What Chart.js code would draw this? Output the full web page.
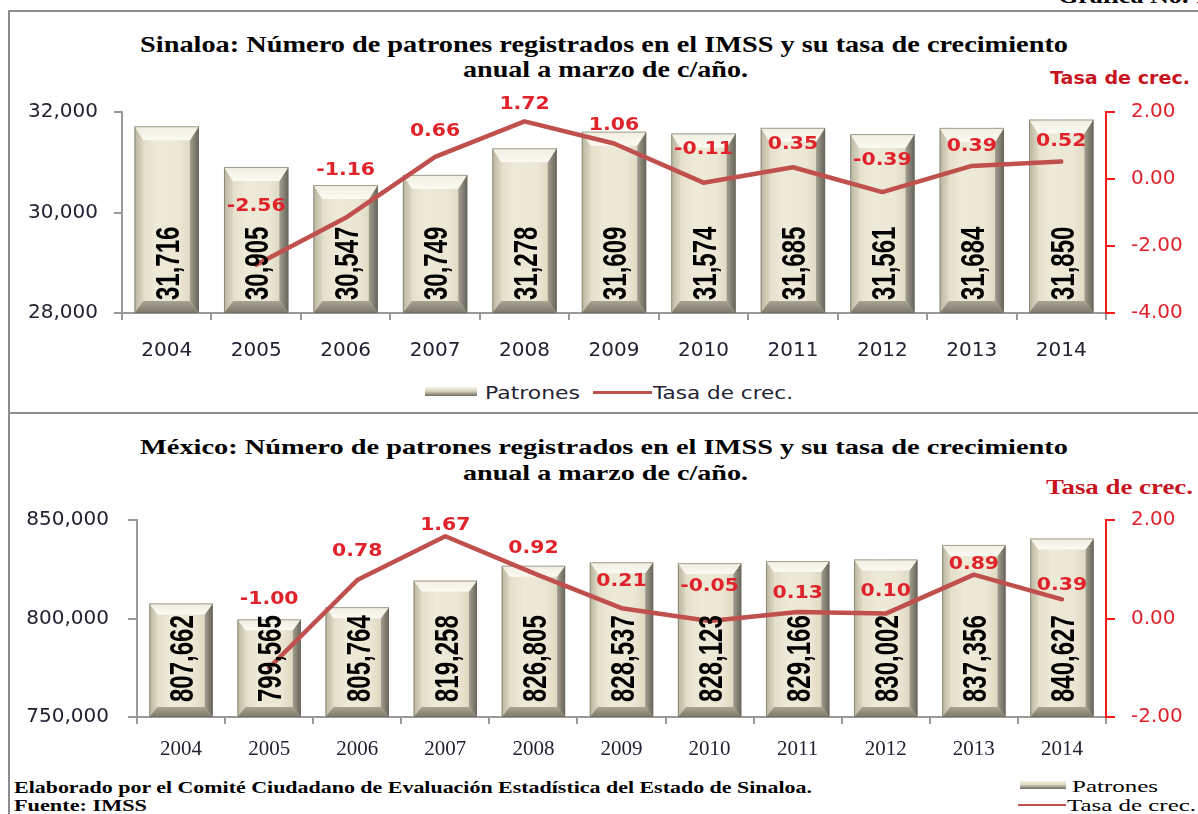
<!DOCTYPE html>
<html><head><meta charset="utf-8">
<script src="https://cdn.jsdelivr.net/npm/chart.js@4.4.1/dist/chart.umd.min.js"></script>
<style>
html,body{margin:0;padding:0;background:#fff;}
body{width:1198px;height:814px;overflow:hidden;position:relative;}
.abs{position:absolute;white-space:nowrap;line-height:1;}
.serif{font-family:"Liberation Serif","Times New Roman",serif;}
.sans{font-family:"DejaVu Sans",Verdana,sans-serif;}
.line{position:absolute;background:#8c8c8c;}
canvas{position:absolute;left:0;}
</style></head>
<body>
<div class="line" style="left:8px;top:10px;width:1190px;height:2px"></div>
<div class="line" style="left:8px;top:10px;width:2px;height:804px"></div>
<div class="line" style="left:8px;top:412px;width:1190px;height:2px"></div>

<div class="abs serif" style="font-weight:bold;font-size:21px;color:#000" data-fit="1058,150,-4">Gráfica No. 1</div>

<div class="abs serif" style="font-weight:bold;font-size:23px;color:#000" data-fit="140,928,44">Sinaloa: Número de patrones registrados en el IMSS y su tasa de crecimiento</div>
<div class="abs serif" style="font-weight:bold;font-size:23px;color:#000" data-fit="463,285,69">anual a marzo de c/año.</div>
<div class="abs sans" style="font-weight:bold;font-size:17px;color:#c8141e" data-fit="1050,140,78">Tasa de crec.</div>

<div class="abs" style="left:425px;top:387px;width:52px;height:9px;background:linear-gradient(#f6f3e6,#d9d5c0 45%,#6f6c60)"></div>
<div class="abs sans" style="font-size:17px;color:#222233" data-fit="485,95,393">Patrones</div>
<div class="abs" style="left:593px;top:391px;width:59px;height:3px;background:#c0504d"></div>
<div class="abs sans" style="font-size:17px;color:#222233" data-fit="653,140,393">Tasa de crec.</div>

<div class="abs serif" style="font-weight:bold;font-size:21px;color:#000" data-fit="140,928,447">México: Número de patrones registrados en el IMSS y su tasa de crecimiento</div>
<div class="abs serif" style="font-weight:bold;font-size:21px;color:#000" data-fit="463,285,473">anual a marzo de c/año.</div>
<div class="abs serif" style="font-weight:bold;font-size:20px;color:#c8141e" data-fit="1046,147,487">Tasa de crec.</div>

<div class="abs serif" style="font-weight:bold;font-size:17px;color:#000" data-fit="14,798,787">Elaborado por el Comité Ciudadano de Evaluación Estadística del Estado de Sinaloa.</div>
<div class="abs serif" style="font-weight:bold;font-size:17px;color:#000" data-fit="14,133,805">Fuente: IMSS</div>

<div class="abs" style="left:1020px;top:781px;width:46px;height:8px;background:linear-gradient(#f6f3e6,#d9d5c0 45%,#6f6c60)"></div>
<div class="abs serif" style="font-size:17px;color:#000" data-fit="1072,86,786">Patrones</div>
<div class="abs" style="left:1018px;top:804px;width:48px;height:2px;background:#c0504d"></div>
<div class="abs serif" style="font-size:17px;color:#000" data-fit="1067,129,805">Tasa de crec.</div>

<canvas id="c1" width="1198" height="413" style="top:0"></canvas>
<canvas id="c2" width="1198" height="401" style="top:413px"></canvas>

<script>
// ---- data ----
const years = ['2004','2005','2006','2007','2008','2009','2010','2011','2012','2013','2014'];
const sinPatrones = [31716,30905,30547,30749,31278,31609,31574,31685,31561,31684,31850];
const sinTasa = [null,-2.56,-1.16,0.66,1.72,1.06,-0.11,0.35,-0.39,0.39,0.52];
const mexPatrones = [807662,799565,805764,819258,826805,828537,828123,829166,830002,837356,840627];
const mexTasa = [null,-1.00,0.78,1.67,0.92,0.21,-0.05,0.13,0.10,0.89,0.39];
const sinLeftTicks = [28000,30000,32000];
const sinRightTicks = [-4,-2,0,2];
const mexLeftTicks = [750000,800000,850000];
const mexRightTicks = [-2,0,2];

// ---- layout of rate labels (pixels above each point) ----
const sinLabelLift = [0,58,47,25,17,18,33,23,31,19,20];
const mexLabelLift = [0,68,29,11,25,27,34,19,22,10,14];

const RED_TXT = '#e0222a';
const LINE_RED = '#c0504d';
const AX_GRAY = '#9a9a9a';
const DARK = '#222233';

const fmtInt = v => Number(v).toLocaleString('en-US');

const bevelPlugin = {
  id: 'bevel',
  beforeDatasetsDraw(chart, args, opts) {
    const ctx = chart.ctx;
    const meta = chart.getDatasetMeta(0);
    const b = opts.side, bt = opts.top, bb = opts.bottom;
    const bottom = chart.chartArea.bottom;
    meta.data.forEach(el => {
      const p = el.getProps(['x','y','base','width'], true);
      const x0 = p.x - p.width/2, x1 = p.x + p.width/2, y0 = p.y, y1 = Math.min(p.base, bottom);
      ctx.save();
      let g = ctx.createLinearGradient(x0, 0, x1, 0);
      g.addColorStop(0, '#dcd8c2'); g.addColorStop(0.35, '#eeead8'); g.addColorStop(0.7, '#ebe7d4'); g.addColorStop(1, '#d2ceb8');
      ctx.fillStyle = g; ctx.fillRect(x0, y0, x1-x0, y1-y0);
      const poly = (pts, fill) => { ctx.beginPath(); ctx.moveTo(pts[0][0], pts[0][1]); for (let i=1;i<pts.length;i++) ctx.lineTo(pts[i][0], pts[i][1]); ctx.closePath(); ctx.fillStyle = fill; ctx.fill(); };
      g = ctx.createLinearGradient(x0, 0, x0+b, 0); g.addColorStop(0, '#b9b5a0'); g.addColorStop(1, '#dcd8c3');
      poly([[x0,y0],[x0+b,y0+bt],[x0+b,y1-bb],[x0,y1]], g);
      g = ctx.createLinearGradient(x1-b, 0, x1, 0); g.addColorStop(0, '#a29e8e'); g.addColorStop(1, '#66635a');
      poly([[x1,y0],[x1,y1],[x1-b,y1-bb],[x1-b,y0+bt]], g);
      g = ctx.createLinearGradient(0, y0, 0, y0+bt); g.addColorStop(0, '#f1eee0'); g.addColorStop(1, '#fbfaf2');
      poly([[x0,y0],[x1,y0],[x1-b,y0+bt],[x0+b,y0+bt]], g);
      g = ctx.createLinearGradient(0, y1-bb, 0, y1); g.addColorStop(0, '#a8a492'); g.addColorStop(1, '#7c796b');
      poly([[x0,y1],[x0+b,y1-bb],[x1-b,y1-bb],[x1,y1]], g);
      ctx.strokeStyle = 'rgba(110,106,95,0.6)'; ctx.lineWidth = 1;
      ctx.strokeRect(x0+0.5, y0+0.5, x1-x0-1, y1-y0-1);
      ctx.restore();
    });
  },
  afterDatasetsDraw(chart, args, opts) {
    const ctx = chart.ctx;
    const bottom = chart.chartArea.bottom;
    const barMeta = chart.getDatasetMeta(0);
    const barData = chart.data.datasets[0].data;
    barMeta.data.forEach((el, i) => {
      const p = el.getProps(['x','base'], true);
      ctx.save();
      ctx.translate(p.x + 3, Math.min(p.base, bottom) - opts.labelPad);
      ctx.rotate(-Math.PI/2);
      ctx.scale(1, 1.4);
      ctx.font = 'bold 24px "Liberation Sans", Arial, sans-serif';
      ctx.fillStyle = '#000';
      ctx.textAlign = 'left';
      ctx.textBaseline = 'middle';
      ctx.fillText(fmtInt(barData[i]), 0, 0);
      ctx.restore();
    });
    const lineMeta = chart.getDatasetMeta(1);
    const lineData = chart.data.datasets[1].data;
    lineMeta.data.forEach((el, i) => {
      if (lineData[i] === null) return;
      const p = el.getProps(['x','y'], true);
      ctx.save();
      ctx.translate(p.x, p.y - opts.lift[i]);
      ctx.scale(1.2, 1);
      ctx.font = 'bold 17px "DejaVu Sans", Verdana, sans-serif';
      ctx.fillStyle = RED_TXT;
      ctx.textAlign = 'center';
      ctx.textBaseline = 'middle';
      ctx.fillText(lineData[i].toFixed(2), 0, 0);
      ctx.restore();
    });
  }
};

function makeChart(id, cfg) {
  return new Chart(document.getElementById(id), {
    data: {
      labels: years,
      datasets: [
        { type: 'bar', label: 'Patrones', data: cfg.bars, yAxisID: 'y', order: 1,
          backgroundColor: 'rgba(0,0,0,0)', borderWidth: 0, barPercentage: 0.72, categoryPercentage: 1 },
        { type: 'line', label: 'Tasa de crec.', data: cfg.rate, yAxisID: 'y1', order: 0,
          borderColor: LINE_RED, borderWidth: 4.5, pointRadius: 0, tension: 0, spanGaps: false,
          borderJoinStyle: 'round', borderCapStyle: 'round', fill: false }
      ]
    },
    options: {
      responsive: false, animation: false, devicePixelRatio: 1,
      layout: { padding: { top: cfg.top, left: 0, right: 0, bottom: 0 } },
      plugins: { legend: { display: false }, tooltip: { enabled: false },
        bevel: { side: cfg.bevel[0], top: cfg.bevel[1], bottom: cfg.bevel[2], labelPad: cfg.labelPad, lift: cfg.lift } },
      scales: {
        x: {
          grid: { display: true, drawOnChartArea: false, drawTicks: true, tickLength: 7, color: AX_GRAY, lineWidth: 2, offset: true },
          border: { display: true, color: AX_GRAY, width: 2 },
          ticks: { font: cfg.xFont, color: DARK, padding: cfg.xPad, maxRotation: 0, autoSkip: false },
          afterFit: s => { s.height = cfg.xHeight; }
        },
        y: {
          position: 'left', min: cfg.leftTicks[0], max: cfg.leftTicks[cfg.leftTicks.length-1],
          afterBuildTicks: s => { s.ticks = cfg.leftTicks.map(v => ({ value: v })); },
          ticks: { callback: v => fmtInt(v), font: { family: '"DejaVu Sans", Verdana, sans-serif', size: 20 }, color: DARK, padding: cfg.leftPad },
          grid: { drawOnChartArea: false, tickLength: cfg.leftTick, color: AX_GRAY, lineWidth: 2 },
          border: { color: AX_GRAY, width: 2 },
          afterFit: s => { s.width = cfg.leftW; }
        },
        y1: {
          position: 'right', min: cfg.rightTicks[0], max: cfg.rightTicks[cfg.rightTicks.length-1],
          afterBuildTicks: s => { s.ticks = cfg.rightTicks.map(v => ({ value: v })); },
          ticks: { callback: v => Number(v).toFixed(2), font: { family: '"DejaVu Sans", Verdana, sans-serif', size: 20 }, color: RED_TXT, padding: 16 },
          grid: { drawOnChartArea: false, tickLength: 9, color: '#ff1a1a', lineWidth: 2 },
          border: { color: '#ff1a1a', width: 2 },
          afterFit: s => { s.width = 92; }
        }
      }
    },
    plugins: [bevelPlugin]
  });
}

function fitTexts() {
  document.querySelectorAll('[data-fit]').forEach(el => {
    const [x, w, cy] = el.dataset.fit.split(',').map(Number);
    const r = el.getBoundingClientRect();
    el.style.left = x + 'px';
    el.style.top = (cy - r.height / 2) + 'px';
    el.style.transformOrigin = '0 50%';
    el.style.transform = 'scaleX(' + (w / r.width) + ')';
  });
}

function build() {
  fitTexts();
  makeChart('c1', {
    bars: sinPatrones, rate: sinTasa, leftTicks: sinLeftTicks, rightTicks: sinRightTicks,
    top: 112, xHeight: 100, xPad: 19, leftW: 122, leftPad: 16, leftTick: 8,
    xFont: { family: '"DejaVu Sans", Verdana, sans-serif', size: 20 },
    bevel: [9, 14, 12], labelPad: 13, lift: sinLabelLift
  });
  makeChart('c2', {
    bars: mexPatrones, rate: mexTasa, leftTicks: mexLeftTicks, rightTicks: mexRightTicks,
    top: 107, xHeight: 97, xPad: 13, leftW: 137, leftPad: 19, leftTick: 9,
    xFont: { family: '"Liberation Serif", "Times New Roman", serif', size: 21 },
    bevel: [8, 11, 10], labelPad: 15, lift: mexLabelLift
  });
}
if (document.fonts && document.fonts.ready) document.fonts.ready.then(build); else build();
</script>
</body></html>
